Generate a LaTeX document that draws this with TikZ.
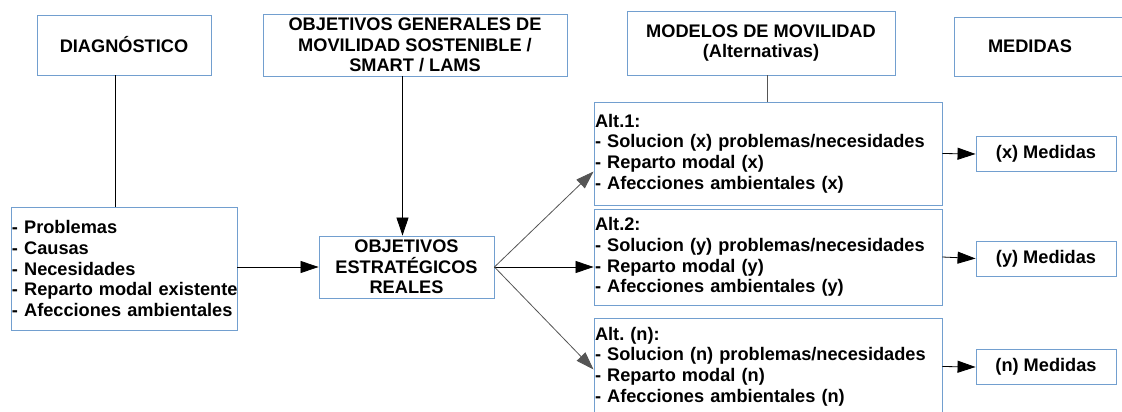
\documentclass[tikz,border=0pt]{standalone}
\usepackage{fontspec}
\setmainfont{Liberation Sans}
\usetikzlibrary{arrows.meta}
\definecolor{bx}{HTML}{729FCF}
\definecolor{ag}{HTML}{555555}
\frenchspacing
\begin{document}
\begin{tikzpicture}[x=1pt,y=-1pt,
 txt/.style={inner sep=0pt, font=\bfseries\fontsize{18.2}{20.7}\selectfont},
 box/.style={txt, draw=bx, line width=0.9pt, align=center},
 lbox/.style={box, align=left, inner xsep=1pt},
 arr/.style={-{Triangle[length=18pt,width=12pt]}, line width=0.8pt},
 ln/.style={line width=0.8pt}]
\useasboundingbox (0,0) rectangle (1122,412);
% headers
\node[box, minimum width=174pt, minimum height=60pt] (diag) at (124,45) {DIAGNÓSTICO};
\node[box, minimum width=304pt, minimum height=62pt] (og) at (415,45) {OBJETIVOS GENERALES DE\\MOVILIDAD SOSTENIBLE /\\SMART / LAMS};
\node[box, minimum width=268pt, minimum height=64pt] (mod) at (761,43) {MODELOS DE MOVILIDAD\\(Alternativas)};
\node[txt] (med) at (1030,46) {MEDIDAS};
\draw[draw=bx, line width=0.9pt] (954,17) rectangle (1135,76);
% left box
\node[lbox, text width=224pt, minimum height=123pt] (prob) at (124,268.5) {- Problemas\\- Causas\\- Necesidades\\\mbox{- Reparto modal existente}\\- Afecciones ambientales};
% central
\node[box, minimum width=175pt, minimum height=62pt] (oe) at (406.5,267) {OBJETIVOS\\ESTRATÉGICOS\\REALES};
% alternatives
\node[lbox, text width=346pt, minimum height=103pt] (alt1) at (768,153.5) {Alt.1:\\- Solucion (x) problemas/necesidades\\- Reparto modal (x)\\- Afecciones ambientales (x)};
\node[lbox, text width=346pt, minimum height=96pt] (alt2) at (768,257) {Alt.2:\\- Solucion (y) problemas/necesidades\\- Reparto modal (y)\\- Afecciones ambientales (y)};
\node[lbox, text width=346pt, minimum height=97pt] (alt3) at (768,366.5) {Alt. (n):\\- Solucion (n) problemas/necesidades\\- Reparto modal (n)\\- Afecciones ambientales (n)};
% medidas
\node[box, minimum width=140pt, minimum height=35pt] (mx) at (1046,154) {(x) Medidas};
\node[box, minimum width=140pt, minimum height=35pt] (my) at (1046,258.5) {(y) Medidas};
\node[box, minimum width=140pt, minimum height=35pt] (mn) at (1046,367) {(n) Medidas};
% connectors
\draw[ln] ([xshift=-9pt]diag.south) -- ([xshift=-9pt]prob.north);
\draw[arr] ([xshift=-12.5pt]og.south) -- ([xshift=-4pt]oe.north);
\draw[ln, ag] ([xshift=6pt]mod.south) -- ([xshift=-1pt]alt1.north);
\draw[arr] (prob.east |- oe.west) -- (oe.west);
\draw[arr, ag] (oe.east) -- ([yshift=-18pt]alt1.west);
\draw[arr] (oe.east) -- ([yshift=-10pt]alt2.west);
\draw[arr, ag] (oe.east) -- ([yshift=-3pt]alt3.west);
\draw[arr] (alt1.east) -- (mx.west);
\draw[arr] (alt2.east) -- (my.west);
\draw[arr] (alt3.east) -- (mn.west);
\end{tikzpicture}
\end{document}
